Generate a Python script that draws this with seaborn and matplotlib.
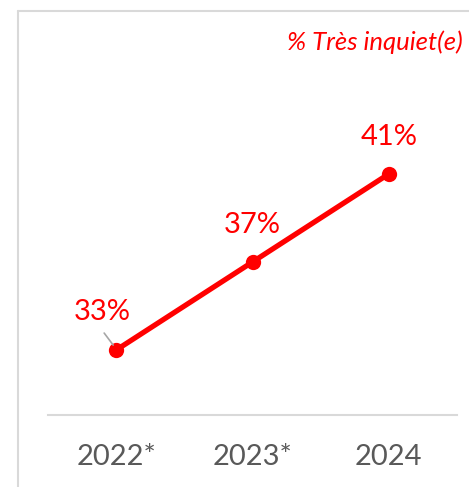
import matplotlib
matplotlib.use("Agg")
import matplotlib.pyplot as plt
import seaborn as sns
import pandas as pd
from matplotlib.lines import Line2D

# data
years = ["2022*", "2023*", "2024"]
tres_inquiet = [33, 37, 41]
series_title = "% Très inquiet(e)"

sns.set_theme(style="white")
plt.rcParams['font.family'] = ['Lato', 'DejaVu Sans']

df = pd.DataFrame({"annee": years, "pct": tres_inquiet})

W, H = 469, 487
fig = plt.figure(figsize=(W / 100, H / 100), dpi=100)
ax = fig.add_axes([48 / W, 1 - 415 / H, (457 - 48) / W, (415 - 11) / H])

red = "#FF0000"
sns.lineplot(data=df, x="annee", y="pct", ax=ax, color=red, linewidth=3.8,
             marker="o", markersize=11, markeredgewidth=0, sort=False)

ax.set_xlim(-0.5, 2.5)
ax.set_ylim(30.05, 48.4)
ax.set_xlabel("")
ax.set_ylabel("")
ax.set_yticks([])
for s in ["top", "left", "right"]:
    ax.spines[s].set_visible(False)
ax.spines["bottom"].set_color("#D9D9D9")
ax.spines["bottom"].set_linewidth(1.5)
ax.tick_params(axis="x", length=0, pad=21, labelsize=21, labelcolor="#595959")
ax.patch.set_alpha(0)

# data labels
offsets = [(-14, 38), (0, 37), (0, 37)]
for i, (v, off) in enumerate(zip(tres_inquiet, offsets)):
    ax.annotate(f"{v}%", xy=(i, v), xytext=(off[0], off[1]), textcoords="offset pixels",
                ha="center", va="center", color=red, fontsize=21)

# leader line for first label
x0, y0 = ax.transData.transform((0, tres_inquiet[0]))
fig.add_artist(Line2D([(x0 - 12) / W, (x0 - 3) / W], [(y0 + 17) / H, (y0 + 5) / H],
                      color="#A6A6A6", linewidth=1.2, zorder=1))

# chart frame
fig.add_artist(Line2D([18 / W, 1], [1 - 11 / H, 1 - 11 / H], color="#D9D9D9", linewidth=1.5))
fig.add_artist(Line2D([18 / W, 18 / W], [0, 1 - 11 / H], color="#D9D9D9", linewidth=1.5))

fig.text(463 / W, 1 - 42 / H, series_title, ha="right", va="center", color=red,
         fontsize=18.5, style="italic")

fig.savefig("out.png", dpi=100)
